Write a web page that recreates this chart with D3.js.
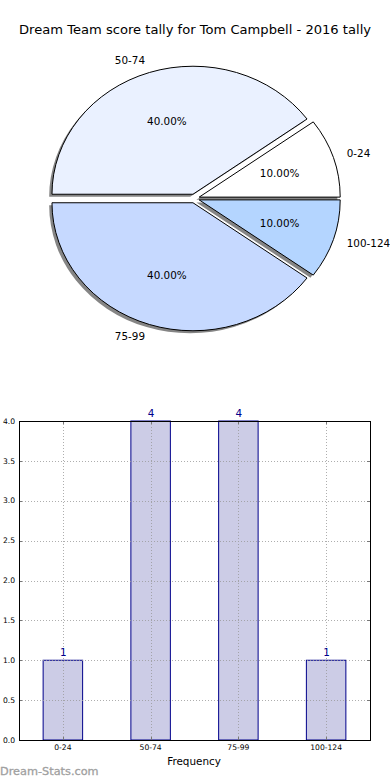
<!DOCTYPE html>
<html>
<head>
<meta charset="utf-8">
<script src="https://cdn.jsdelivr.net/npm/d3@7"></script>
<style>
  html, body { margin: 0; padding: 0; background: #fff; }
  svg { display: block; font-family: "DejaVu Sans", sans-serif; }
</style>
</head>
<body>
<svg id="chart" width="390" height="780"></svg>
<script>
const titleText = "Dream Team score tally for Tom Campbell - 2016 tally";
const categories = ["0-24", "50-74", "75-99", "100-124"];
const counts = [1, 4, 4, 1];
const pieColors = ["#ffffff", "#eaf1ff", "#c6d9ff", "#b4d5ff"];
const yTicks = [0, 0.5, 1.0, 1.5, 2.0, 2.5, 3.0, 3.5, 4.0];
const xLabel = "Frequency";
const watermark = "Dream-Stats.com";

(function () {
const svg = d3.select("#chart");

// Title
svg.append("text")
  .attr("x", 195).attr("y", 34)
  .attr("text-anchor", "middle")
  .attr("font-size", "13.1px")
  .attr("fill", "#000")
  .text(titleText);

// ---------- Pie ----------
const cx = 194.5, cy = 198.5, rx = 141, ry = 128, R = 100;
const explode = 0.035;
const total = d3.sum(counts);
const pie = d3.pie().sort(null).value(d => d)
  .startAngle(Math.PI / 2).endAngle(Math.PI / 2 - 2 * Math.PI);
const arcs = pie(counts);
const arc = d3.arc().innerRadius(0).outerRadius(R);

function midAngle(a) { return (a.startAngle + a.endAngle) / 2; }
function offs(a, f) {
  const m = midAngle(a);
  return [Math.sin(m) * f * rx, -Math.cos(m) * f * ry];
}

const pieG = svg.append("g");
pieG.selectAll("path.shadow").data(arcs).enter().append("path")
  .attr("class", "shadow")
  .attr("d", arc)
  .attr("transform", d => {
    const o = offs(d, explode);
    return `translate(${cx + o[0] - 2.8},${cy + o[1] + 2.6}) scale(${rx / R},${ry / R})`;
  })
  .attr("fill", "#858585")
  .attr("stroke", "none");

pieG.selectAll("path.wedge").data(arcs).enter().append("path")
  .attr("class", "wedge")
  .attr("d", arc)
  .attr("transform", d => {
    const o = offs(d, explode);
    return `translate(${cx + o[0]},${cy + o[1]}) scale(${rx / R},${ry / R})`;
  })
  .attr("fill", (d, i) => pieColors[i])
  .attr("stroke", "#000")
  .attr("stroke-width", 1)
  .attr("vector-effect", "non-scaling-stroke");

arcs.forEach((d, i) => {
  const o = offs(d, explode);
  const m = midAngle(d);
  const sx = Math.sin(m), sy = -Math.cos(m);
  const lx = cx + o[0] + 1.1 * rx * sx;
  const ly = cy + o[1] + 1.1 * ry * sy;
  pieG.append("text")
    .attr("x", lx).attr("y", ly)
    .attr("dy", "0.35em")
    .attr("text-anchor", sx > 0 ? "start" : "end")
    .attr("font-size", "10.4px")
    .attr("fill", "#000")
    .text(categories[i]);
  const px = cx + o[0] + 0.6 * rx * sx;
  const py = cy + o[1] + 0.6 * ry * sy;
  pieG.append("text")
    .attr("x", px).attr("y", py)
    .attr("dy", "0.35em")
    .attr("text-anchor", "middle")
    .attr("font-size", "10.4px")
    .attr("fill", "#000")
    .text((counts[i] / total * 100).toFixed(2) + "%");
});

// ---------- Bar chart ----------
const pLeft = 19, pRight = 370, pTop = 421, pBottom = 740;
const x = d3.scaleBand().domain(categories).range([pLeft, pRight])
  .paddingInner(0.55).paddingOuter(0.275);
const y = d3.scaleLinear().domain([0, 4]).range([pBottom, pTop]);
const xc = d => x(d) + x.bandwidth() / 2;

const barG = svg.append("g");
barG.selectAll("rect.bar").data(categories).enter().append("rect")
  .attr("class", "bar")
  .attr("x", d => x(d))
  .attr("y", (d, i) => y(counts[i]))
  .attr("width", x.bandwidth())
  .attr("height", (d, i) => y(0) - y(counts[i]))
  .attr("fill", "#ccccE6")
  .attr("stroke", "#00008b")
  .attr("stroke-width", 1);

const gridG = svg.append("g")
  .attr("stroke", "#9a9a9a")
  .attr("stroke-width", 1)
  .attr("stroke-dasharray", "1,2")
  .attr("opacity", 0.8);
yTicks.forEach(t => {
  gridG.append("line")
    .attr("x1", pLeft).attr("x2", pRight)
    .attr("y1", Math.round(y(t)) + 0.5).attr("y2", Math.round(y(t)) + 0.5);
});
categories.forEach(c => {
  gridG.append("line")
    .attr("x1", Math.round(xc(c)) + 0.5).attr("x2", Math.round(xc(c)) + 0.5)
    .attr("y1", pTop).attr("y2", pBottom);
});

const tickG = svg.append("g").attr("stroke", "#777").attr("stroke-width", 1);
yTicks.forEach(t => {
  const yy = Math.round(y(t)) + 0.5;
  tickG.append("line").attr("x1", pLeft).attr("x2", pLeft + 3).attr("y1", yy).attr("y2", yy);
  tickG.append("line").attr("x1", pRight - 3).attr("x2", pRight).attr("y1", yy).attr("y2", yy);
});
categories.forEach(c => {
  const xx = Math.round(xc(c)) + 0.5;
  tickG.append("line").attr("x1", xx).attr("x2", xx).attr("y1", pBottom).attr("y2", pBottom - 3);
  tickG.append("line").attr("x1", xx).attr("x2", xx).attr("y1", pTop).attr("y2", pTop + 3);
});

svg.append("rect")
  .attr("x", pLeft + 0.5).attr("y", pTop + 0.5)
  .attr("width", pRight - pLeft).attr("height", pBottom - pTop)
  .attr("fill", "none").attr("stroke", "#000").attr("stroke-width", 1);

yTicks.forEach(t => {
  svg.append("text")
    .attr("x", 15).attr("y", y(t))
    .attr("dy", "0.35em")
    .attr("text-anchor", "end")
    .attr("font-size", "7.6px")
    .attr("fill", "#000")
    .text(t.toFixed(1));
});
categories.forEach(c => {
  svg.append("text")
    .attr("x", xc(c)).attr("y", 750)
    .attr("text-anchor", "middle")
    .attr("font-size", "7.6px")
    .attr("fill", "#000")
    .text(c);
});
categories.forEach((c, i) => {
  svg.append("text")
    .attr("x", xc(c) + 0.5).attr("y", y(counts[i]) - 4)
    .attr("text-anchor", "middle")
    .attr("font-size", "10.4px")
    .attr("fill", "#00008b")
    .text(counts[i]);
});
svg.append("text")
  .attr("x", 194).attr("y", 765)
  .attr("text-anchor", "middle")
  .attr("font-size", "10.4px")
  .attr("fill", "#000")
  .text(xLabel);
svg.append("text")
  .attr("x", 0).attr("y", 775)
  .attr("font-size", "11.3px")
  .attr("fill", "#a0a0a0")
  .attr("stroke", "#a0a0a0")
  .attr("stroke-width", 0.3)
  .text(watermark);
})();
</script>
</body>
</html>
